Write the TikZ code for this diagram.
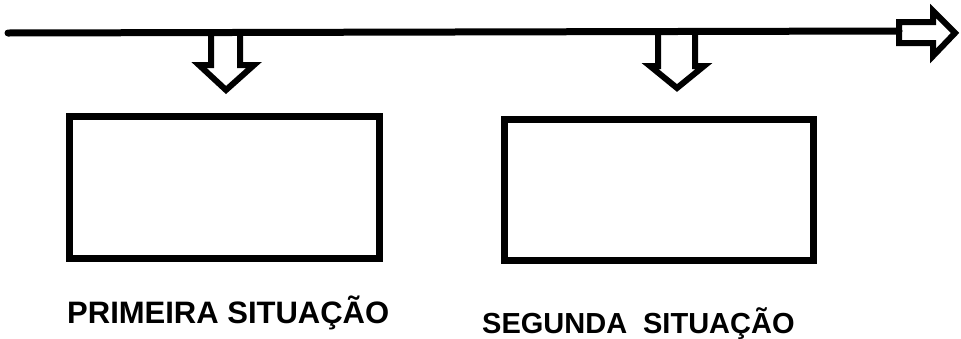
\documentclass[tikz,border=0pt]{standalone}
\usepackage{fontspec}
\setmainfont{Liberation Sans}
\usetikzlibrary{positioning}
\begin{document}
\begin{tikzpicture}[
        x=1pt, y=-1pt,
        situacao/.style={rectangle, draw, line width=7pt, minimum width=310pt, minimum height=142pt, inner sep=0pt},
        legenda/.style={anchor=base west, inner sep=0pt, font=\bfseries},
        seta/.style={draw, line width=6pt, line join=miter, miter limit=4}
    ]
        \useasboundingbox (0,0) rectangle (961,338);

        % Linha do tempo
        \coordinate (inicio) at (8,33);
        \coordinate (fim) at (899,31);
        \draw[line width=7pt, line cap=round] (inicio) -- (fim);
        \draw[seta] (fim) |- (933,22) -- (933,11) -- (955,33) -- (933,56) -- (933,43) -| cycle;

        % Setas para baixo
        \draw[seta] (211,33) -- (211,65) -- (199,65) -- (226,90) -- (254,65) -- (240,65) -- (240,33);
        \draw[seta] (658,32) -- (658,66) -- (650,66) -- (677,88) -- (704,66) -- (695,66) -- (695,32);

        % Situacoes
        \node[situacao] (primeira) at (224,187) {};
        \node[situacao, minimum width=309pt, minimum height=141pt] (segunda) at (658.5,189.5) {};

        % Legendas
        \node[legenda, font=\bfseries\fontsize{31}{31}\selectfont] (legprimeira) at (67,323) {PRIMEIRA SITUAÇÃO};
        \node[legenda, font=\bfseries\fontsize{29}{29}\selectfont] (legsegunda) at (482,333) {SEGUNDA\hspace{0.55em}SITUAÇÃO};

    \end{tikzpicture}
\end{document}
